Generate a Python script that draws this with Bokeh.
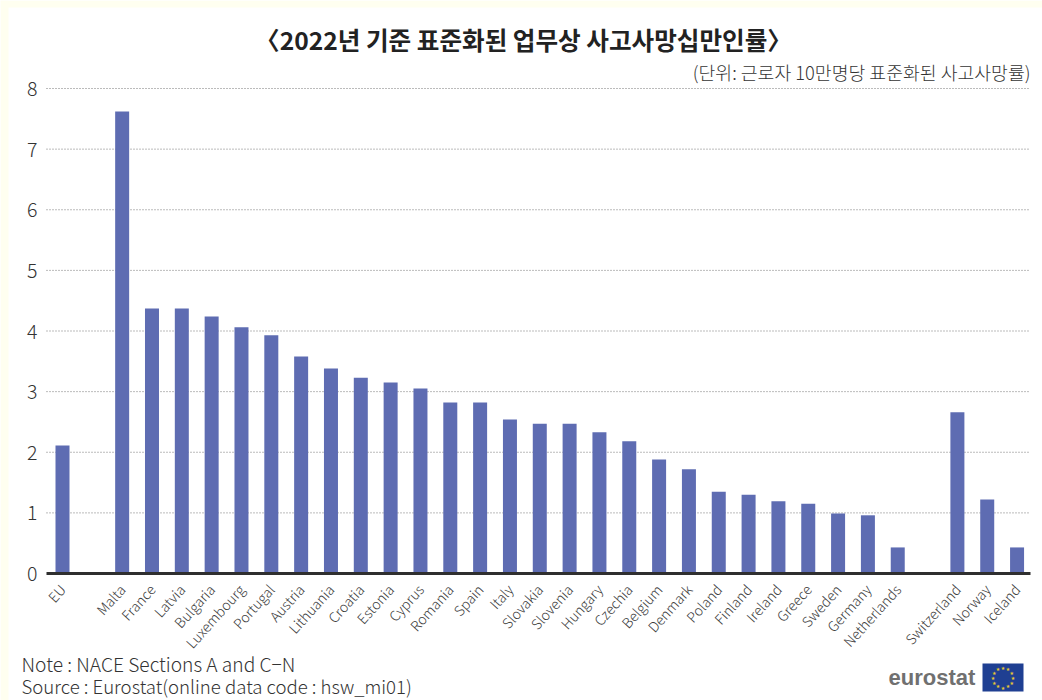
import math
from bokeh.plotting import figure
from bokeh.models import Range1d, Label, BoxAnnotation, FixedTicker
from bokeh.embed import file_html
from bokeh.resources import INLINE

countries = ["EU", "", "Malta", "France", "Latvia", "Bulgaria", "Luxembourg", "Portugal", "Austria",
             "Lithuania", "Croatia", "Estonia", "Cyprus", "Romania", "Spain", "Italy", "Slovakia",
             "Slovenia", "Hungary", "Czechia", "Belgium", "Denmark", "Poland", "Finland", "Ireland",
             "Greece", "Sweden", "Germany", "Netherlands", "", "Switzerland", "Norway", "Iceland"]
rates = [2.11, None, 7.62, 4.37, 4.37, 4.24, 4.06, 3.93, 3.58,
         3.38, 3.23, 3.15, 3.05, 2.82, 2.82, 2.54, 2.47,
         2.47, 2.33, 2.18, 1.88, 1.72, 1.35, 1.30, 1.19,
         1.15, 0.99, 0.96, 0.43, None, 2.66, 1.22, 0.43]
y_ticks = [0, 1, 2, 3, 4, 5, 6, 7, 8]

title_text = "〈2022년 기준 표준화된 업무상 사고사망십만인률〉"
unit_text = "(단위: 근로자 10만명당 표준화된 사고사망률)"
note_text = "Note : NACE Sections A and C−N"
source_text = "Source : Eurostat(online data code : hsw_mi01)"
logo_text = "eurostat"

FONT = "Noto Sans CJK KR"
LIGHT = "'Noto Sans CJK KR Light', 'Noto Sans CJK KR'"
W, H = 1042, 700

# pixel geometry of the plot area
X0_PX, STEP_PX = 62.0, 29.83     # centre of the first category, category spacing
Y0_PX, UNIT_PX = 573.0, 60.625   # baseline, pixels per unit
LEFT_PX, RIGHT_PX = 46.0, 1030.0


def xd(px):
    return (px - X0_PX) / STEP_PX


idx = [i for i, v in enumerate(rates) if v is not None]
vals = [rates[i] for i in idx]

p = figure(width=W, height=H, output_backend="svg", toolbar_location=None,
           x_range=Range1d(xd(0), xd(W)),
           y_range=Range1d(-(H - Y0_PX) / UNIT_PX, Y0_PX / UNIT_PX),
           min_border=0, min_border_left=0, min_border_right=0, min_border_top=0, min_border_bottom=0)
p.background_fill_color = "white"
p.border_fill_color = "white"
p.outline_line_color = None
p.xgrid.visible = False
p.ygrid.visible = False

# cream strips of the page edge
p.add_layout(BoxAnnotation(left=0, right=W, top=0, bottom=7, left_units="canvas", right_units="canvas",
                           top_units="canvas", bottom_units="canvas", fill_color="#fffff0", fill_alpha=1,
                           line_color=None, level="underlay"))
p.add_layout(BoxAnnotation(left=0, right=8, top=0, bottom=H, left_units="canvas", right_units="canvas",
                           top_units="canvas", bottom_units="canvas", fill_color="#fffff0", fill_alpha=1,
                           line_color=None, level="underlay"))

# dotted gridlines
gy = y_ticks[1:]
p.segment(x0=[xd(LEFT_PX)] * len(gy), x1=[xd(RIGHT_PX)] * len(gy), y0=gy, y1=gy,
          line_color="#777777", line_width=1, line_dash="1 2")

p.vbar(x=idx, top=vals, bottom=0, width=14.0 / STEP_PX, fill_color="#5e6cb2", line_color=None)

p.yaxis.fixed_location = xd(LEFT_PX)
p.yaxis.bounds = (0, 8)
p.yaxis.ticker = FixedTicker(ticks=y_ticks)
p.yaxis.axis_line_color = None
p.yaxis.major_tick_line_color = None
p.yaxis.minor_tick_line_color = None
p.yaxis.major_label_text_font = LIGHT
p.yaxis.major_label_text_font_size = "19.5px"
p.yaxis.major_label_text_color = "#333333"
p.yaxis.major_label_standoff = 3

p.xaxis.fixed_location = 0
p.xaxis.bounds = (xd(LEFT_PX), xd(RIGHT_PX))
p.xaxis.ticker = FixedTicker(ticks=[i for i, c in enumerate(countries) if c])
p.xaxis.major_label_overrides = {i: c for i, c in enumerate(countries) if c}
p.xaxis.axis_line_color = "#2f2f2f"
p.xaxis.axis_line_width = 3
p.xaxis.major_tick_line_color = None
p.xaxis.minor_tick_line_color = None
p.xaxis.major_label_orientation = math.radians(48)
p.xaxis.major_label_text_font = LIGHT
p.xaxis.major_label_text_font_size = "14px"
p.xaxis.major_label_text_color = "#3c3c3c"
p.xaxis.major_label_standoff = 7


def label(text, px, py, size, color, align="left", style="normal", font=LIGHT):
    p.add_layout(Label(x=px, y=py, x_units="canvas", y_units="canvas", text=text,
                       text_font=font, text_font_size=size, text_color=color,
                       text_align=align, text_baseline="middle", text_font_style=style))


label(title_text, 523, 38, "24.6px", "#222222", "center", "bold", FONT)
label(unit_text, 1030, 71, "18.3px", "#333333", "right")
label(note_text, 21, 663, "19.2px", "#333333")
label(source_text, 21, 685, "18.6px", "#333333")
label(logo_text, 888, 677, "22px", "#707070", "left", "bold", "Liberation Sans")

p.add_layout(BoxAnnotation(left=982, right=1023, top=663, bottom=691,
                           left_units="canvas", right_units="canvas",
                           top_units="canvas", bottom_units="canvas",
                           fill_color="#1f3f92", fill_alpha=1, line_color=None))
for k in range(12):
    a = k * math.pi / 6
    p.add_layout(Label(x=1002.5 + 10 * math.sin(a), y=677 - 10 * math.cos(a),
                       x_units="canvas", y_units="canvas", text="★",
                       text_font=FONT, text_font_size="4px", text_color="#e6c832",
                       text_align="center", text_baseline="middle"))

open("out.html", "w").write(file_html(p, INLINE))
